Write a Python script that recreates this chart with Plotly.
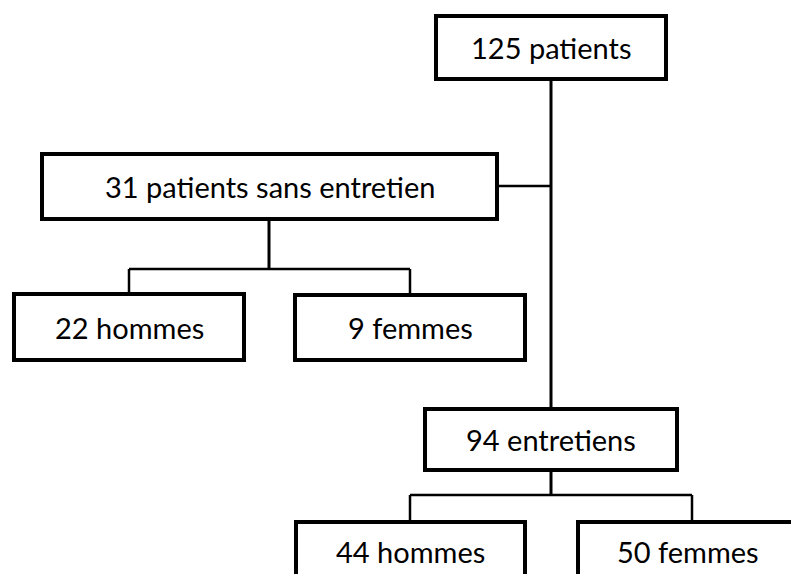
import plotly.graph_objects as go

# box labels (counts from the flow chart)
labels = ["125 patients", "31 patients sans entretien", "22 hommes", "9 femmes",
          "94 entretiens", "44 hommes", "50 femmes"]

# box geometry in page pixels: left, right, top, bottom
box_x0 = [436, 42, 14, 295, 425, 296, 578]
box_x1 = [666, 497, 244, 525, 677, 525, 830]
box_y0 = [16, 154, 294, 295, 409, 522, 522]
box_y1 = [79, 219, 360, 360, 470, 610, 610]
text_x = [551, 270, 129, 410, 551, 410, 688]
text_y = [47, 186, 327, 327, 439, 551, 551]

# connector segments: (x0, y0, x1, y1, width)
links = [
    (551, 79, 551, 409, 3),
    (497, 186, 551, 186, 2.5),
    (269, 219, 269, 269, 3),
    (129, 269, 410, 269, 2.5),
    (129, 269, 129, 294, 2.5),
    (410, 269, 410, 295, 2.5),
    (551, 470, 551, 495, 3),
    (410, 495, 692, 495, 2.5),
    (410, 495, 410, 522, 2.5),
    (692, 495, 692, 522, 2.5),
]

fig = go.Figure()

shapes = []
for x0, y0, x1, y1, w in links:
    shapes.append(dict(type="line", x0=x0, y0=y0, x1=x1, y1=y1,
                       line=dict(color="black", width=w)))
for i in range(len(labels)):
    shapes.append(dict(type="rect", x0=box_x0[i], x1=box_x1[i], y0=box_y0[i], y1=box_y1[i],
                       line=dict(color="black", width=4), fillcolor="white"))

annotations = []
for i, lab in enumerate(labels):
    annotations.append(dict(x=text_x[i], y=text_y[i], text=lab, showarrow=False,
                            font=dict(family="Lato", size=29, color="black"),
                            xanchor="center", yanchor="middle"))

# the page body adds an 8px offset, so the axes start at 8
fig.update_layout(
    width=799, height=574,
    margin=dict(l=0, r=0, t=0, b=0),
    paper_bgcolor="white", plot_bgcolor="white",
    xaxis=dict(range=[8, 807], visible=False, fixedrange=True),
    yaxis=dict(range=[582, 8], visible=False, fixedrange=True),
    shapes=shapes,
    annotations=annotations,
    showlegend=False,
)

fig.write_html("out.html")
